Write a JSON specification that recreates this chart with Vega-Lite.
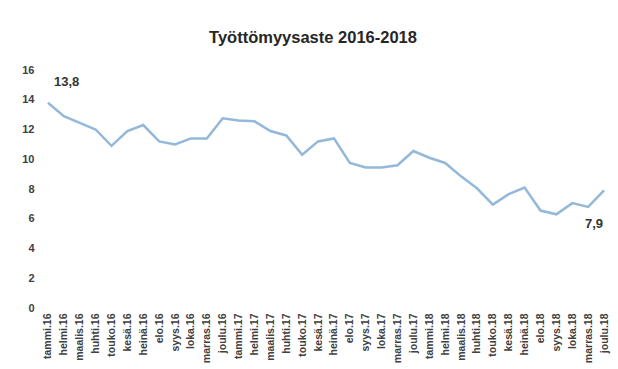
{
  "$schema": "https://vega.github.io/schema/vega-lite/v6.json",
  "width": 572,
  "height": 238,
  "autosize": {"type": "none"},
  "padding": {"left": 40, "top": 70, "right": 6, "bottom": 61},
  "background": "white",
  "title": {"text": "Työttömyysaste 2016-2018", "font": "Liberation Sans", "fontSize": 16.5, "fontWeight": "bold", "color": "#262626", "anchor": "middle", "offset": 18, "dx": -13},
  "config": {"view": {"stroke": null}},
  "data": {"values": [
    {"kk": "tammi.16", "v": 13.8, "lbl": "13,8"},
    {"kk": "helmi.16", "v": 12.9},
    {"kk": "maalis.16", "v": 12.45},
    {"kk": "huhti.16", "v": 12.0},
    {"kk": "touko.16", "v": 10.9},
    {"kk": "kesä.16", "v": 11.9},
    {"kk": "heinä.16", "v": 12.3},
    {"kk": "elo.16", "v": 11.2},
    {"kk": "syys.16", "v": 11.0},
    {"kk": "loka.16", "v": 11.4},
    {"kk": "marras.16", "v": 11.4},
    {"kk": "joulu.16", "v": 12.75},
    {"kk": "tammi.17", "v": 12.6},
    {"kk": "helmi.17", "v": 12.55},
    {"kk": "maalis.17", "v": 11.9},
    {"kk": "huhti.17", "v": 11.6},
    {"kk": "touko.17", "v": 10.3},
    {"kk": "kesä.17", "v": 11.2},
    {"kk": "heinä.17", "v": 11.4},
    {"kk": "elo.17", "v": 9.75},
    {"kk": "syys.17", "v": 9.45},
    {"kk": "loka.17", "v": 9.45},
    {"kk": "marras.17", "v": 9.6},
    {"kk": "joulu.17", "v": 10.55},
    {"kk": "tammi.18", "v": 10.1},
    {"kk": "helmi.18", "v": 9.75},
    {"kk": "maalis.18", "v": 8.85},
    {"kk": "huhti.18", "v": 8.05},
    {"kk": "touko.18", "v": 6.95},
    {"kk": "kesä.18", "v": 7.65},
    {"kk": "heinä.18", "v": 8.1},
    {"kk": "elo.18", "v": 6.55},
    {"kk": "syys.18", "v": 6.3},
    {"kk": "loka.18", "v": 7.05},
    {"kk": "marras.18", "v": 6.8},
    {"kk": "joulu.18", "v": 7.9, "lbl2": "7,9"}
  ]},
  "encoding": {
    "x": {"field": "kk", "type": "ordinal", "sort": null, "title": null,
      "scale": {"type": "point", "padding": 0.5},
      "axis": {"labelAngle": -90, "labelFont": "Liberation Sans", "labelFontWeight": "bold", "labelFontSize": 10.5, "labelColor": "#404040", "domain": false, "ticks": false, "labelPadding": 5}},
    "y": {"field": "v", "type": "quantitative", "title": null,
      "scale": {"domain": [0, 16], "nice": false},
      "axis": {"values": [0, 2, 4, 6, 8, 10, 12, 14, 16], "grid": false, "domain": false, "ticks": false, "labelFont": "Liberation Sans", "labelFontWeight": "bold", "labelFontSize": 11, "labelColor": "#404040", "labelPadding": 6}}
  },
  "layer": [
    {"mark": {"type": "line", "color": "#94b8da", "strokeWidth": 2.5}},
    {"transform": [{"filter": "isValid(datum.lbl)"}],
      "mark": {"type": "text", "font": "Liberation Sans", "fontWeight": "bold", "fontSize": 13, "color": "#333333", "align": "left", "dx": 6, "dy": -21},
      "encoding": {"text": {"field": "lbl"}}},
    {"transform": [{"filter": "isValid(datum.lbl2)"}],
      "mark": {"type": "text", "font": "Liberation Sans", "fontWeight": "bold", "fontSize": 13, "color": "#333333", "align": "right", "dx": -1, "dy": 34},
      "encoding": {"text": {"field": "lbl2"}}}
  ]
}
